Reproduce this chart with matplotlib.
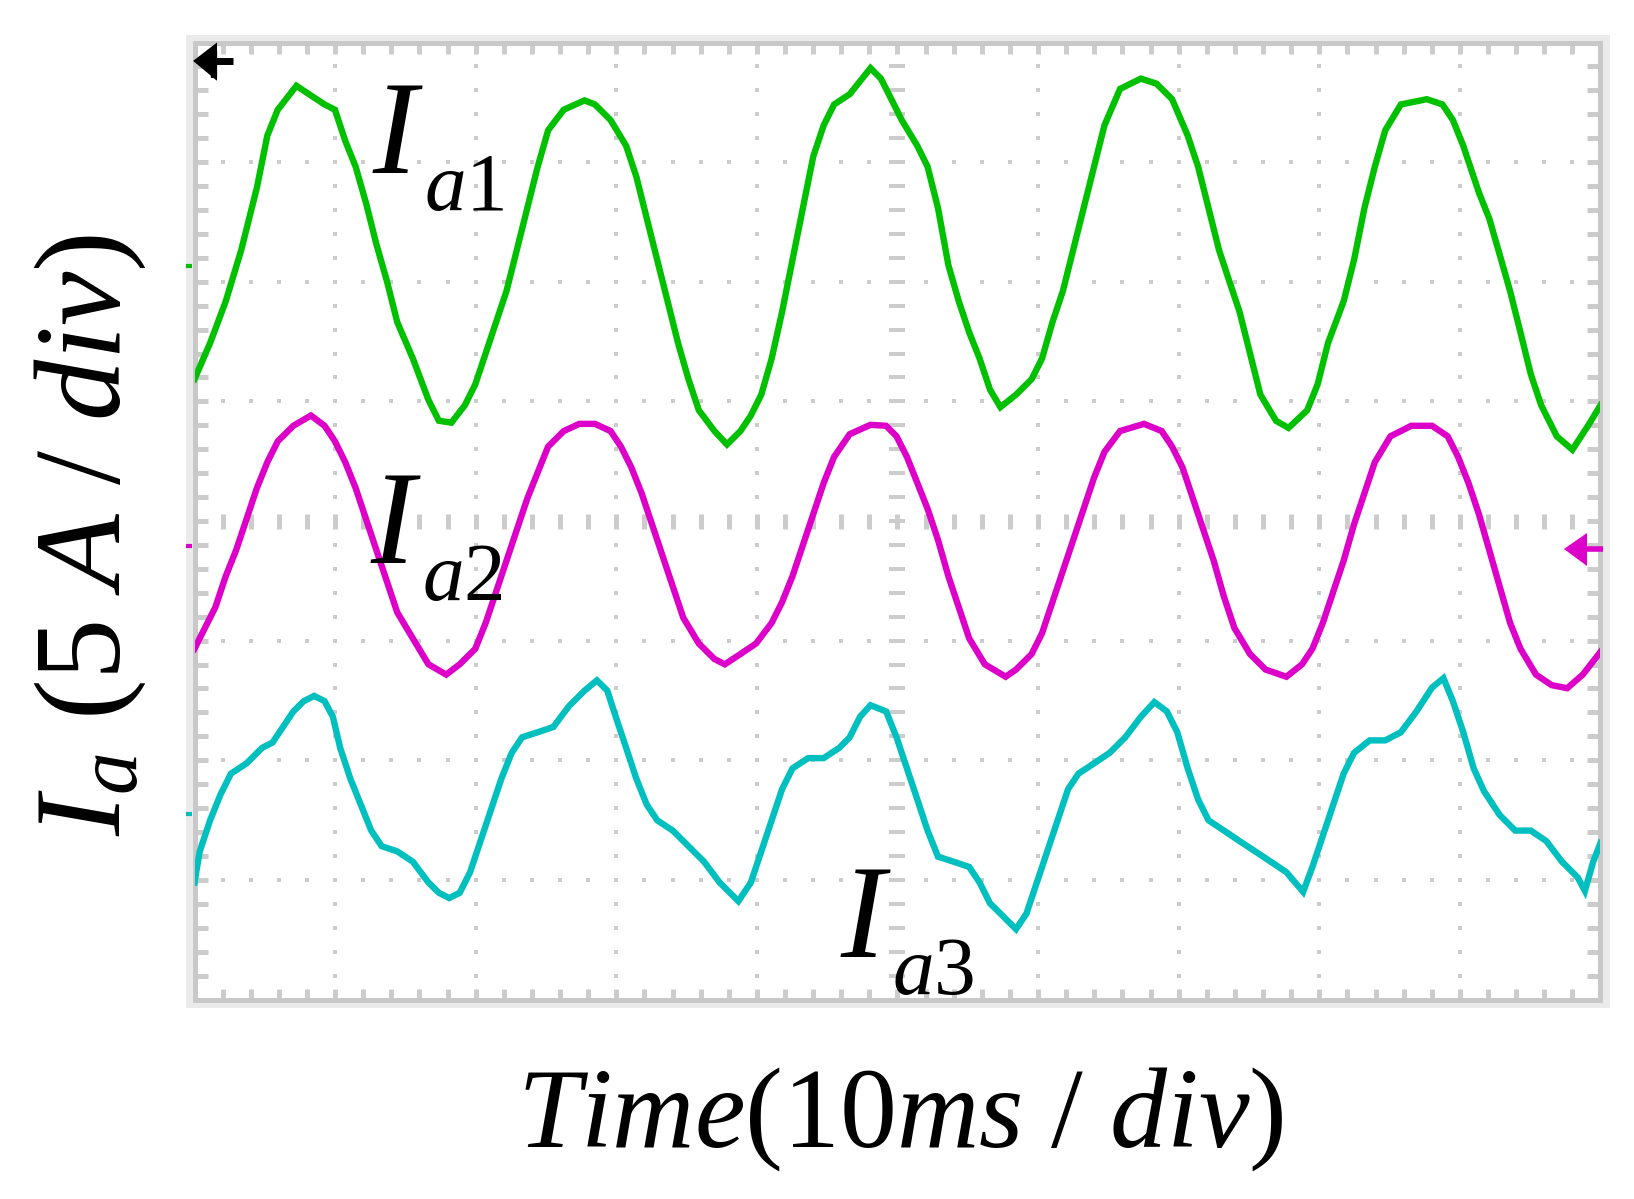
import numpy as np
import matplotlib
matplotlib.use('Agg')
import matplotlib.pyplot as plt
from matplotlib.patches import Rectangle, Polygon

plt.rcParams['mathtext.fontset'] = 'custom'
plt.rcParams['mathtext.rm'] = 'Liberation Serif'
plt.rcParams['mathtext.it'] = 'Liberation Serif:italic'
plt.rcParams['font.family'] = ['Liberation Serif', 'DejaVu Serif']

# scope screen: 10 x 8 divisions, 10 ms/div and 5 A/div
ms_per_div = 10
amps_per_div = 5
n_xdiv = 10
n_ydiv = 8

# channel ground levels, in divisions from the screen centre
off_ia1 = 2.13
off_ia2 = -0.21
off_ia3 = -2.45

# channel 1 (green), time in ms, current in A
t_ia1 = [0.00, 1.11, 2.22, 3.33, 4.44, 5.18, 5.92, 7.25, 8.14, 9.25, 9.99, 10.72,
         11.46, 12.20, 12.94, 13.68, 14.42, 15.53, 16.64, 17.38, 18.27, 19.23, 19.97,
         20.71, 21.45, 22.19, 22.93, 23.67, 24.41, 25.15, 26.26, 27.74, 28.48, 29.59,
         30.70, 31.43, 32.17, 32.91, 33.65, 34.39, 35.13, 35.87, 36.98, 37.87, 38.83,
         39.57, 40.31, 41.05, 41.79, 42.53, 43.27, 44.01, 44.75, 45.49, 46.60, 48.08,
         48.82, 49.56, 50.30, 51.41, 52.14, 52.88, 53.62, 54.36, 55.10, 55.84, 56.58,
         57.32, 58.43, 59.54, 60.28, 61.02, 61.76, 62.50, 63.24, 63.98, 64.72, 65.83,
         67.31, 68.42, 69.53, 70.64, 71.38, 72.12, 72.86, 73.59, 74.33, 75.07, 75.81,
         76.92, 77.81, 79.14, 79.88, 80.62, 81.73, 82.47, 83.21, 83.95, 84.69, 85.80,
         87.65, 88.76, 89.50, 90.24, 91.35, 92.09, 92.83, 93.57, 94.31, 95.04, 95.78,
         96.89, 98.00, 99.11, 100.0]
ia1 = [-4.72, -3.21, -1.47, 0.69, 3.29, 5.46, 6.54, 7.54, 7.19, 6.76, 6.54, 5.24,
       4.16, 2.64, 0.91, -0.61, -2.34, -3.86, -5.59, -6.46, -6.54, -5.81, -4.94,
       -3.64, -2.34, -1.04, 0.69, 2.43, 4.16, 5.68, 6.54, 6.93, 6.76, 6.11,
       5.03, 3.73, 1.99, 0.26, -1.47, -3.21, -4.72, -6.02, -6.89, -7.45, -6.89,
       -6.24, -5.37, -3.86, -1.91, 0.26, 2.43, 4.59, 5.89, 6.76, 7.19, 8.28,
       7.84, 6.98, 6.11, 5.03, 4.16, 2.43, 0.04, -1.47, -2.77, -3.86, -5.16,
       -5.89, -5.37, -4.72, -3.86, -2.34, -1.04, 0.69, 2.43, 4.16, 5.89, 7.41,
       7.84, 7.63, 6.98, 5.46, 4.16, 2.43, 0.69, -0.61, -1.91, -3.64, -5.37,
       -6.46, -6.76, -6.02, -4.94, -3.21, -1.47, 0.26, 2.43, 4.16, 5.68, 6.76,
       6.98, 6.76, 6.11, 5.03, 3.08, 1.99, 0.48, -1.04, -2.77, -4.51, -5.81,
       -7.11, -7.67, -6.67, -5.81]

# channel 2 (magenta)
t_ia2 = [0.00, 0.74, 1.48, 2.22, 2.96, 3.70, 4.44, 5.18, 5.92, 7.03, 8.28, 9.25,
         9.99, 10.72, 11.46, 12.20, 12.94, 13.68, 14.42, 15.53, 16.64, 17.90, 18.86,
         19.97, 20.71, 21.45, 22.19, 22.93, 23.67, 24.41, 25.15, 26.26, 27.37, 28.48,
         29.59, 30.33, 31.07, 31.80, 32.54, 33.28, 34.02, 34.76, 35.87, 36.98, 37.72,
         38.83, 39.94, 41.05, 41.79, 42.53, 43.27, 44.01, 44.75, 45.49, 46.60, 48.08,
         49.19, 49.93, 50.67, 51.41, 52.14, 52.88, 53.62, 54.36, 55.10, 56.21, 57.69,
         58.43, 59.54, 60.28, 61.02, 61.76, 62.50, 63.24, 63.98, 64.72, 65.83, 67.53,
         68.79, 69.53, 70.27, 71.01, 71.75, 72.49, 73.22, 73.96, 75.07, 76.18, 77.66,
         78.77, 79.51, 80.25, 80.99, 81.73, 82.47, 83.21, 83.95, 85.06, 86.54, 88.02,
         89.13, 89.87, 90.61, 91.35, 92.09, 92.83, 93.57, 94.31, 95.41, 96.52, 97.63,
         98.74, 100.0]
ia2 = [-4.29, -3.42, -2.56, -1.26, -0.17, 1.13, 2.43, 3.51, 4.38, 5.03, 5.46, 5.03,
       4.38, 3.51, 2.43, 1.13, -0.17, -1.47, -2.77, -3.86, -4.94, -5.37, -4.94,
       -4.29, -3.21, -1.91, -0.61, 0.69, 1.99, 3.08, 4.16, 4.81, 5.11, 5.11,
       4.81, 4.16, 3.29, 2.21, 0.91, -0.39, -1.69, -2.99, -4.07, -4.72, -4.94,
       -4.51, -4.07, -3.21, -2.34, -1.26, 0.04, 1.34, 2.64, 3.73, 4.68, 5.07,
       5.03, 4.59, 3.73, 2.64, 1.56, 0.26, -1.26, -2.56, -3.86, -4.94, -5.46,
       -5.16, -4.51, -3.64, -2.34, -1.04, 0.26, 1.56, 2.86, 3.94, 4.81, 5.11,
       4.81, 4.16, 3.29, 1.99, 0.69, -0.61, -2.12, -3.42, -4.51, -5.16, -5.46,
       -4.94, -4.29, -3.21, -1.91, -0.61, 0.91, 2.21, 3.51, 4.59, 5.03, 5.03,
       4.59, 3.73, 2.64, 1.34, -0.17, -1.69, -3.21, -4.29, -5.37, -5.81, -5.94,
       -5.37, -4.42]

# channel 3 (cyan)
t_ia3 = [0.00, 0.37, 1.11, 1.85, 2.59, 3.70, 4.81, 5.55, 6.29, 7.03, 7.77, 8.51,
         9.25, 9.84, 10.36, 11.09, 11.83, 12.57, 13.31, 14.42, 15.53, 16.64, 17.38,
         18.12, 18.86, 19.60, 20.34, 21.08, 21.82, 22.56, 23.30, 24.41, 25.52, 26.63,
         27.74, 28.62, 29.36, 29.96, 30.70, 31.43, 32.17, 32.91, 34.02, 35.13, 36.24,
         37.35, 38.68, 39.57, 40.31, 41.05, 41.79, 42.53, 43.64, 44.75, 45.86, 46.60,
         47.34, 48.08, 49.19, 49.93, 50.67, 51.41, 52.14, 52.88, 53.99, 55.10, 55.84,
         56.58, 57.32, 58.43, 59.17, 59.91, 60.65, 61.39, 62.13, 62.87, 63.98, 65.09,
         66.20, 67.31, 68.27, 69.16, 69.90, 70.64, 71.38, 72.12, 73.22, 74.33, 75.44,
         76.55, 77.66, 78.85, 79.51, 80.25, 80.99, 81.73, 82.47, 83.58, 84.69, 85.80,
         86.91, 88.02, 88.83, 89.50, 90.24, 90.98, 91.72, 92.83, 93.93, 95.04, 96.15,
         97.26, 98.37, 98.89, 99.48, 100.0]
ia3 = [-2.86, -1.56, -0.26, 0.82, 1.69, 2.12, 2.77, 2.99, 3.64, 4.29, 4.72, 4.94,
       4.72, 4.07, 2.77, 1.47, 0.39, -0.69, -1.34, -1.56, -1.99, -2.86, -3.29,
       -3.51, -3.29, -2.43, -1.13, 0.17, 1.47, 2.56, 3.21, 3.42, 3.64, 4.51,
       5.16, 5.59, 5.16, 4.07, 2.77, 1.47, 0.39, -0.26, -0.69, -1.34, -1.99,
       -2.86, -3.64, -2.86, -1.56, -0.26, 1.04, 1.91, 2.34, 2.34, 2.77, 3.21,
       4.07, 4.55, 4.29, 3.21, 1.91, 0.61, -0.69, -1.78, -1.99, -2.21, -2.86,
       -3.73, -4.16, -4.81, -4.16, -2.86, -1.56, -0.26, 1.04, 1.69, 2.12, 2.56,
       3.21, 4.07, 4.68, 4.29, 3.42, 1.91, 0.61, -0.26, -0.69, -1.13, -1.56,
       -1.99, -2.43, -3.25, -2.21, -0.91, 0.39, 1.69, 2.56, 3.08, 3.08, 3.42,
       4.29, 5.29, 5.68, 4.72, 3.42, 1.91, 0.95, -0.04, -0.69, -0.69, -1.13,
       -1.99, -2.64, -3.21, -1.99, -1.21]

channels = [
  (t_ia1, ia1, off_ia1, '#00c000', r'$a1$'),
  (t_ia2, ia2, off_ia2, '#dd00c8', r'$a2$'),
  (t_ia3, ia3, off_ia3, '#00bfbf', r'$a3$'),
]

W, H = 1634, 1199
grid_c = '#cccccc'

def fx(px):
  return px / W

def fy(py):
  return 1 - py / H

fig = plt.figure(figsize=(W / 100, H / 100), dpi=100)
fig.patch.set_facecolor('white')

# light outer band of the scope screen
fig.add_artist(Rectangle((fx(186), fy(1007.5)), (1609.5 - 186) / W, (1007.5 - 35) / H,
                         transform=fig.transFigure, facecolor='#ebebeb',
                         edgecolor='none', zorder=-5))

ax = fig.add_axes([fx(194.5), fy(999.5), 1406 / W, 957 / H])
ax.set_facecolor('white')
xmax = n_xdiv * ms_per_div
ax.set_xlim(0, xmax)
ax.set_ylim(-n_ydiv / 2, n_ydiv / 2)
for sp in ax.spines.values():
  sp.set_color('#c8c8c8')
  sp.set_linewidth(3.6)

# minor division ticks on all four edges
xminor = np.arange(0, xmax + 0.01, ms_per_div / 5)
yminor = np.arange(-n_ydiv / 2, n_ydiv / 2 + 0.01, 0.2)
ax.set_xticks(xminor)
ax.set_yticks(yminor)
ax.tick_params(axis='x', direction='in', length=7.6, width=3.6, color=grid_c,
               top=True, bottom=True, labelbottom=False)
ax.tick_params(axis='y', direction='in', length=9.7, width=3.6, color=grid_c,
               left=True, right=True, labelleft=False)

# dotted graticule
xin = xminor[1:-1]
yin = yminor[1:-1]
for yg in range(-3, 4):
  if yg == 0:
    ax.plot(xin, np.zeros_like(xin), ls='none', marker='|', ms=10.8, mew=3.6,
            color=grid_c, zorder=1)
  else:
    ax.plot(xin, np.full_like(xin, yg), ls='none', marker='s', ms=3.3, mew=0,
            color=grid_c, zorder=1)
for xg in range(1, n_xdiv):
  xv = xg * ms_per_div
  if xv == xmax / 2:
    ax.plot(np.full_like(yin, xv), yin, ls='none', marker='_', ms=12, mew=2.9,
            color=grid_c, zorder=1)
  else:
    ax.plot(np.full_like(yin, xv), yin, ls='none', marker='s', ms=3.3, mew=0,
            color=grid_c, zorder=1)

# traces + ground markers on the left edge
for t, cur, off, col, sub in channels:
  ax.plot(t, off + np.array(cur) / amps_per_div, color=col, lw=4.6,
          solid_joinstyle='miter', zorder=3)
  ax.plot([-0.6, -0.18], [off, off], color=col, lw=3, solid_capstyle='butt',
          clip_on=False, zorder=4)

# trigger markers
ax.add_patch(Polygon([[-0.1, 3.846], [1.6, 4.0], [1.6, 3.68]], closed=True,
                     facecolor='black', edgecolor='none', clip_on=False, zorder=5))
ax.plot([1.4, 1.4], [3.70, 3.93], color='black', lw=4.5, solid_capstyle='butt', zorder=5)
ax.plot([1.3, 2.75], [3.846, 3.846], color='black', lw=5, solid_capstyle='butt', zorder=5)
ax.add_patch(Polygon([[97.40, -0.234], [99.04, -0.10], [99.04, -0.376]], closed=True,
                     facecolor='#dd00c8', edgecolor='none', clip_on=False, zorder=5))
ax.plot([98.9, 100.18], [-0.234, -0.234], color='#dd00c8', lw=4, solid_capstyle='butt',
        clip_on=False, zorder=5)

# channel labels: big italic I with a dropped subscript
label_pos = [(372, 173), (370, 563), (840, 957)]
for (px, py), ch in zip(label_pos, channels):
  fig.text(fx(px), fy(py), r'$I$', fontsize=96, ha='left', va='baseline', color='black')
  fig.text(fx(px + 52), fy(py + 37), ch[4], fontsize=60, ha='left', va='baseline',
           color='black')

fig.text(fx(900), fy(1147), r'$Time(10ms\ /\ div)$', fontsize=82, ha='center',
         va='baseline', color='black')
fig.text(fx(90), fy(535), r'$I_a\ (5\ A\ /\ div)$', fontsize=88, rotation=90,
         ha='center', va='center', color='black')

fig.savefig('out.png', dpi=100, facecolor='white')
